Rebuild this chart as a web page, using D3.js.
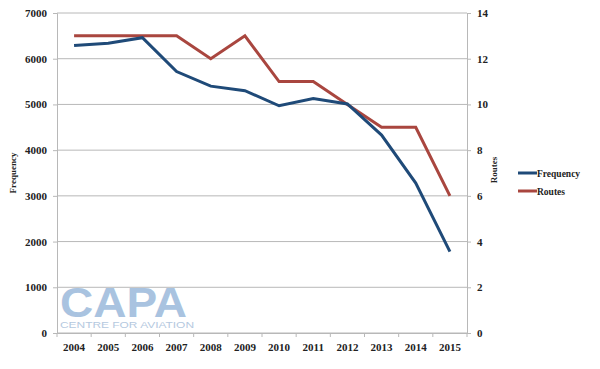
<!DOCTYPE html>
<html lang="en">
  <head>
    <meta charset="utf-8">
    <title>Frequency and routes</title>
    <script src="https://unpkg.com/d3@7/dist/d3.min.js"></script>
    <style type="text/css">
body,html{
    margin: 0;
    padding: 0;
    background: #fff;
  }
svg text{
    font-family: "Liberation Serif", "DejaVu Serif", serif;
    font-weight: bold;
    fill: #222;
  }
    </style>
  </head>
  <body>
    <script type="text/javascript">
      const years = ["2004","2005","2006","2007","2008","2009","2010","2011","2012","2013","2014","2015"];
      const frequency = [6290, 6340, 6460, 5720, 5400, 5300, 4970, 5130, 5010, 4330, 3280, 1780];
      const routes = [13, 13, 13, 13, 12, 13, 11, 11, 10, 9, 9, 6];
      const leftTicks = [0, 1000, 2000, 3000, 4000, 5000, 6000, 7000];
      const rightTicks = [0, 2, 4, 6, 8, 10, 12, 14];

      const w = 600, h = 369;
      const margin = {top: 13, bottom: 36, left: 57, right: 133};

      const svg = d3.select("body").append("svg")
        .attr("width", w)
        .attr("height", h);

      const x = d3.scaleBand().domain(years).range([margin.left, w - margin.right]);
      const yL = d3.scaleLinear().domain([0, 7000]).range([h - margin.bottom, margin.top]);
      const yR = d3.scaleLinear().domain([0, 14]).range([h - margin.bottom, margin.top]);

      // gridlines
      svg.append("g").selectAll("line")
        .data(leftTicks)
        .join("line")
        .attr("x1", margin.left).attr("x2", w - margin.right)
        .attr("y1", d => yL(d)).attr("y2", d => yL(d))
        .attr("stroke", "#b8b8b8").attr("stroke-width", 1);

      // watermark
      svg.append("text")
        .attr("x", 60).attr("y", 317)
        .style("font-family", "'Liberation Sans', Arial, sans-serif")
        .style("font-size", "42px").style("font-weight", "900")
        .style("fill", "#a9c3e0")
        .attr("textLength", 127)
        .attr("lengthAdjust", "spacingAndGlyphs")
        .text("CAPA");
      svg.append("text")
        .attr("x", 60).attr("y", 327.5)
        .style("font-family", "'Liberation Sans', Arial, sans-serif")
        .style("font-size", "9.5px").style("font-weight", "normal")
        .style("fill", "#b5c9e0")
        .attr("textLength", 134)
        .attr("lengthAdjust", "spacingAndGlyphs")
        .text("CENTRE FOR AVIATION");

      // left axis
      const gL = svg.append("g")
        .attr("transform", `translate(${margin.left},0)`)
        .call(d3.axisLeft(yL).tickValues(leftTicks).tickSize(4).tickPadding(6).tickFormat(d3.format("d")));
      gL.select(".domain").attr("stroke", "#b8b8b8");
      gL.selectAll(".tick line").attr("stroke", "#b8b8b8");
      gL.selectAll("text").style("font-size", "11px");

      // right axis
      const gR = svg.append("g")
        .attr("transform", `translate(${w - margin.right},0)`)
        .call(d3.axisRight(yR).tickValues(rightTicks).tickSize(4).tickPadding(6));
      gR.select(".domain").attr("stroke", "#b8b8b8");
      gR.selectAll(".tick line").attr("stroke", "#b8b8b8");
      gR.selectAll("text").style("font-size", "11px");

      // bottom axis
      const gB = svg.append("g")
        .attr("transform", `translate(0,${h - margin.bottom})`)
        .call(d3.axisBottom(x).tickSize(0).tickPadding(10));
      gB.select(".domain").attr("stroke", "#b8b8b8");
      gB.selectAll("text").style("font-size", "11px");
      gB.selectAll(".sep")
        .data(years.concat(["end"]))
        .join("line")
        .attr("class", "sep")
        .attr("x1", (d, i) => margin.left + i * x.step())
        .attr("x2", (d, i) => margin.left + i * x.step())
        .attr("y1", 0).attr("y2", 4)
        .attr("stroke", "#b8b8b8");

      // axis titles
      svg.append("text")
        .attr("transform", `translate(16,${(margin.top + h - margin.bottom) / 2}) rotate(-90)`)
        .attr("text-anchor", "middle")
        .style("font-size", "9px")
        .text("Frequency");
      svg.append("text")
        .attr("transform", `translate(497,${(margin.top + h - margin.bottom) / 2 - 3}) rotate(-90)`)
        .attr("text-anchor", "middle")
        .style("font-size", "9px")
        .text("Routes");

      const cx = d => x(d) + x.bandwidth() / 2;

      const lineF = d3.line().x((d, i) => cx(years[i])).y(d => yL(d));
      const lineR = d3.line().x((d, i) => cx(years[i])).y(d => yR(d));

      svg.append("path")
        .attr("d", lineR(routes))
        .attr("fill", "none").attr("stroke", "#a9463f").attr("stroke-width", 3);
      svg.append("path")
        .attr("d", lineF(frequency))
        .attr("fill", "none").attr("stroke", "#1f4a78").attr("stroke-width", 3);

      // legend
      const legend = [["Frequency", "#1f4a78"], ["Routes", "#a9463f"]];
      const lg = svg.append("g").selectAll("g")
        .data(legend)
        .join("g")
        .attr("transform", (d, i) => `translate(518,${173 + i * 18})`);
      lg.append("line")
        .attr("x1", 0).attr("x2", 19).attr("y1", 0).attr("y2", 0)
        .attr("stroke", d => d[1]).attr("stroke-width", 3);
      lg.append("text")
        .attr("x", 19).attr("y", 3.5)
        .style("font-size", "9.5px")
        .text(d => d[0]);
    </script>
  </body>
</html>
